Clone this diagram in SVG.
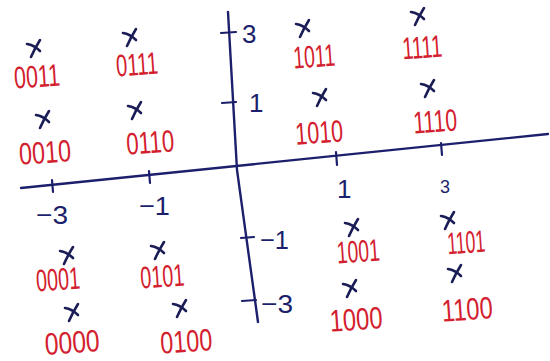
<svg xmlns="http://www.w3.org/2000/svg" xmlns:xlink="http://www.w3.org/1999/xlink" width="550" height="361" viewBox="0 0 550 361">
<style>
.ax{stroke:#1c1f6b;stroke-width:2.4;fill:none;stroke-linecap:round}
.tk{stroke:#1c1f6b;stroke-width:2.2;fill:none;stroke-linecap:round}
.al{font-family:"Liberation Sans",sans-serif;font-size:26px;fill:#1c1f6b}
.lb{font-family:"Liberation Sans",sans-serif;font-size:31px;fill:#d3202e;text-anchor:middle}
.xm{stroke:#1a1c55;stroke-width:2.6;fill:none;stroke-linecap:round}
</style>
<defs>
<g id="xm" class="xm"><path d="M-7,-4 Q0,-3 6,3"/><path d="M6,-8 Q1,0 -3,9"/></g>
</defs>
<rect width="550" height="361" fill="#ffffff"/>
<g id="axes">
<path class="ax" d="M21,188 L548,134"/>
<path class="ax" d="M228,12 L237,170 L258,322"/>
<path class="tk" d="M52,180 L53,192 M149,171 L150,183 M336,152 L337,165 M441,143 L442,155"/>
<path class="tk" d="M221,33 L236,32 M222,103 L236,102 M241,238 L254,237 M242,301 L256,300"/>
<text class="al" x="36" y="224" textLength="32" lengthAdjust="spacingAndGlyphs">−3</text>
<text class="al" x="139" y="215" textLength="31" lengthAdjust="spacingAndGlyphs">−1</text>
<text class="al" x="337" y="198">1</text>
<text class="al" x="440" y="193" style="font-size:18px">3</text>
<text class="al" x="242" y="43">3</text>
<text class="al" x="249" y="112">1</text>
<text class="al" x="260" y="249" textLength="29" lengthAdjust="spacingAndGlyphs">−1</text>
<text class="al" x="261" y="313" textLength="32" lengthAdjust="spacingAndGlyphs">−3</text>
</g>
<g id="p0011"><use xlink:href="#xm" x="34" y="48"/><text class="lb" x="37" y="87" textLength="46" lengthAdjust="spacingAndGlyphs" transform="rotate(-4 37 76)">0011</text></g>
<g id="p0111"><use xlink:href="#xm" x="130" y="37"/><text class="lb" x="137" y="75" textLength="42" lengthAdjust="spacingAndGlyphs" transform="rotate(-4 137 64)">0111</text></g>
<g id="p0010"><use xlink:href="#xm" x="43" y="119"/><text class="lb" x="45" y="163" textLength="52" lengthAdjust="spacingAndGlyphs" transform="rotate(-4 45 152)">0010</text></g>
<g id="p0110"><use xlink:href="#xm" x="135" y="110"/><text class="lb" x="150" y="153" textLength="48" lengthAdjust="spacingAndGlyphs" transform="rotate(-4 150 141)">0110</text></g>
<g id="p1011"><use xlink:href="#xm" x="303" y="28"/><text class="lb" x="314" y="67" textLength="42" lengthAdjust="spacingAndGlyphs" transform="rotate(-4 314 55)">1011</text></g>
<g id="p1111"><use xlink:href="#xm" x="418" y="16"/><text class="lb" x="422" y="58" textLength="40" lengthAdjust="spacingAndGlyphs" transform="rotate(-4 422 46)">1111</text></g>
<g id="p1010"><use xlink:href="#xm" x="320" y="97"/><text class="lb" x="319" y="143" textLength="48" lengthAdjust="spacingAndGlyphs" transform="rotate(-4 319 130)">1010</text></g>
<g id="p1110"><use xlink:href="#xm" x="428" y="88"/><text class="lb" x="435" y="132" textLength="44" lengthAdjust="spacingAndGlyphs" transform="rotate(-4 435 120)">1110</text></g>
<g id="p0001"><use xlink:href="#xm" x="67" y="255"/><text class="lb" x="58" y="290" textLength="44" lengthAdjust="spacingAndGlyphs" transform="rotate(-4 58 279)">0001</text></g>
<g id="p0101"><use xlink:href="#xm" x="158" y="250"/><text class="lb" x="162" y="287" textLength="44" lengthAdjust="spacingAndGlyphs" transform="rotate(-4 162 274)">0101</text></g>
<g id="p0000"><use xlink:href="#xm" x="72" y="312"/><text class="lb" x="72" y="353" textLength="55" lengthAdjust="spacingAndGlyphs" transform="rotate(-4 72 340)">0000</text></g>
<g id="p0100"><use xlink:href="#xm" x="180" y="308"/><text class="lb" x="186" y="352" textLength="52" lengthAdjust="spacingAndGlyphs" transform="rotate(-4 186 337)">0100</text></g>
<g id="p1001"><use xlink:href="#xm" x="352" y="227"/><text class="lb" x="358" y="262" textLength="43" lengthAdjust="spacingAndGlyphs" transform="rotate(-4 358 248)">1001</text></g>
<g id="p1101"><use xlink:href="#xm" x="448" y="220"/><text class="lb" x="466" y="253" textLength="38" lengthAdjust="spacingAndGlyphs" transform="rotate(-4 466 240)">1101</text></g>
<g id="p1000"><use xlink:href="#xm" x="350" y="288"/><text class="lb" x="356" y="330" textLength="53" lengthAdjust="spacingAndGlyphs" transform="rotate(-4 356 318)">1000</text></g>
<g id="p1100"><use xlink:href="#xm" x="455" y="273"/><text class="lb" x="467" y="320" textLength="51" lengthAdjust="spacingAndGlyphs" transform="rotate(-4 467 306)">1100</text></g>
</svg>
